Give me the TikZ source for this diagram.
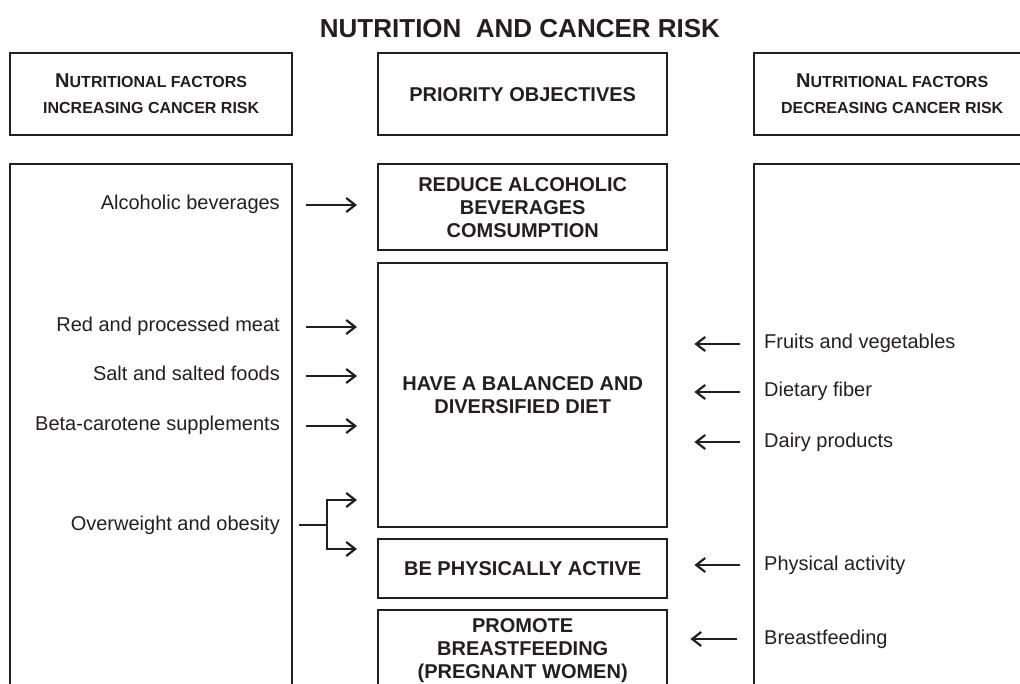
\documentclass[tikz,border=0pt]{standalone}
\usepackage{fontspec}
\setmainfont{Liberation Sans}
\usetikzlibrary{arrows.meta}
\definecolor{ink}{RGB}{35,31,32}

\begin{document}
\begin{tikzpicture}
        [x=1pt, y=-1pt, color=ink,
        every node/.style={font=\fontsize{20}{23}\selectfont},
        box/.style={draw, line width=2.4pt, inner sep=0pt, anchor=north west},
        goal/.style={box, font=\fontsize{20}{23}\selectfont\bfseries, align=center},
        head/.style={box, font=\fontsize{16}{26}\selectfont\bfseries, align=center},
        factor/.style={inner sep=0pt, text height=15pt, text depth=5pt},
        arr/.style={line width=2.2pt, -{Straight Barb[length=9pt,width=14pt]}}]

    \clip (0,0) rectangle (1020,684);

    \node[font=\fontsize{26}{30}\selectfont\bfseries] (title) at (520,29)
      {NUTRITION\ \ AND CANCER RISK};

    % headers
    \node[head, minimum width=282, minimum height=82] (hdl) at (9,52)
      {{\fontsize{20}{26}\selectfont N}UTRITIONAL FACTORS\\INCREASING CANCER RISK};
    \node[goal, minimum width=289, minimum height=82] (hdc) at (377,52)
      {PRIORITY OBJECTIVES};
    \node[head, minimum width=276, minimum height=82] (hdr) at (753,52)
      {{\fontsize{20}{26}\selectfont N}UTRITIONAL FACTORS\\DECREASING CANCER RISK};

    % side columns, open at the bottom
    \node[box, minimum width=282, minimum height=540] (incr) at (9,163) {};
    \node[box, minimum width=276, minimum height=540] (decr) at (753,163) {};

    % objectives
    \node[goal, minimum width=289, minimum height=86] (alcbox) at (377,163)
      {REDUCE ALCOHOLIC\\BEVERAGES\\COMSUMPTION};
    \node[goal, minimum width=289, minimum height=264] (diet) at (377,262)
      {HAVE A BALANCED AND\\DIVERSIFIED DIET};
    \node[goal, minimum width=289, minimum height=59] (active) at (377,538)
      {BE PHYSICALLY ACTIVE};
    \node[goal, minimum width=289, minimum height=80] (breast) at (377,609)
      {PROMOTE\\BREASTFEEDING\\(PREGNANT WOMEN)};

    % increasing factors
    \node[factor, anchor=east] (alc) at (280,205) {Alcoholic beverages};
    \node[factor, anchor=east] (meat) at (280,327) {Red and processed meat};
    \node[factor, anchor=east] (salt) at (280,376) {Salt and salted foods};
    \node[factor, anchor=east] (beta) at (280,426) {Beta-carotene supplements};
    \node[factor, anchor=east] (obes) at (280,525) {Overweight and obesity};

    % decreasing factors
    \node[factor, anchor=west] (fruit) at (764,344) {Fruits and vegetables};
    \node[factor, anchor=west] (fiber) at (764,392) {Dietary fiber};
    \node[factor, anchor=west] (dairy) at (764,442) {Dairy products};
    \node[factor, anchor=west] (phys) at (764,565) {Physical activity};
    \node[factor, anchor=west] (feed) at (764,639) {Breastfeeding};

    \draw[arr, shorten <=26pt, shorten >=20pt] (alc.east) -- (alc.east -| alcbox.west);
    \draw[arr, shorten <=26pt, shorten >=20pt] (meat.east) -- (meat.east -| diet.west);
    \draw[arr, shorten <=26pt, shorten >=20pt] (salt.east) -- (salt.east -| diet.west);
    \draw[arr, shorten <=26pt, shorten >=20pt] (beta.east) -- (beta.east -| diet.west);

    \draw[line width=2.2pt] (obes.east) ++(19,0) -- ++(28,0) coordinate (fork);
    \draw[arr, shorten >=20pt] (fork) |- ([yshift=-24pt]fork -| diet.west);
    \draw[arr, shorten >=20pt] (fork) |- ([yshift=25pt]fork -| active.west);

    \draw[arr, shorten <=24pt, shorten >=26pt] (fruit.west) -- (fruit.west -| diet.east);
    \draw[arr, shorten <=24pt, shorten >=26pt] (fiber.west) -- (fiber.west -| diet.east);
    \draw[arr, shorten <=24pt, shorten >=26pt] (dairy.west) -- (dairy.west -| diet.east);
    \draw[arr, shorten <=24pt, shorten >=26pt] (phys.west) -- (phys.west -| active.east);
    \draw[arr, shorten <=27pt, shorten >=22pt] (feed.west) -- (feed.west -| breast.east);
    \end{tikzpicture}
\end{document}
